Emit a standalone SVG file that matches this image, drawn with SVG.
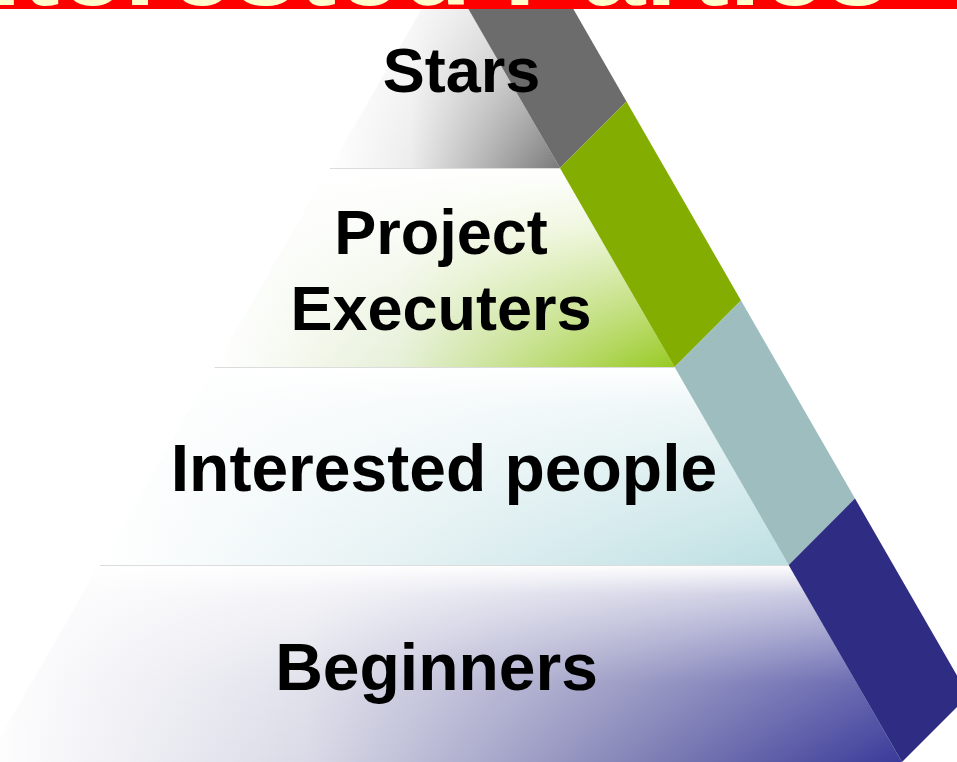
<svg xmlns="http://www.w3.org/2000/svg" width="957" height="762" viewBox="0 0 957 762">
  <style>
    .lbl { font-family: "Liberation Sans", Arial, sans-serif; font-weight: bold; fill: #000; text-anchor: middle; }
    .sep { stroke: #dcdcdc; stroke-width: 1.2; fill: none; }
    .title { font-family: "Liberation Sans", Arial, sans-serif; font-weight: bold; fill: #FFFFCC; font-size: 115px; }
  </style>
  <defs>
    <linearGradient id="gStarsH" gradientUnits="userSpaceOnUse" x1="330" y1="0" x2="560" y2="0">
      <stop offset="0" stop-color="#ffffff"/>
      <stop offset="0.35" stop-color="#ececec"/>
      <stop offset="1" stop-color="#7a7a7a"/>
    </linearGradient>
    <linearGradient id="gStarsV" gradientUnits="userSpaceOnUse" x1="0" y1="-31" x2="0" y2="168">
      <stop offset="0" stop-color="#ffffff" stop-opacity="0.85"/>
      <stop offset="0.45" stop-color="#ffffff" stop-opacity="0.5"/>
      <stop offset="1" stop-color="#ffffff" stop-opacity="0"/>
    </linearGradient>
    <linearGradient id="gProjH" gradientUnits="userSpaceOnUse" x1="215" y1="0" x2="674" y2="0">
      <stop offset="0" stop-color="#ffffff"/>
      <stop offset="0.4" stop-color="#e6f0d8"/>
      <stop offset="1" stop-color="#98ca22"/>
    </linearGradient>
    <linearGradient id="gProjV" gradientUnits="userSpaceOnUse" x1="0" y1="168" x2="0" y2="367">
      <stop offset="0" stop-color="#ffffff" stop-opacity="1"/>
      <stop offset="0.3" stop-color="#ffffff" stop-opacity="0.8"/>
      <stop offset="1" stop-color="#ffffff" stop-opacity="0"/>
    </linearGradient>
    <linearGradient id="gIntH" gradientUnits="userSpaceOnUse" x1="100" y1="0" x2="789" y2="0">
      <stop offset="0" stop-color="#ffffff"/>
      <stop offset="0.45" stop-color="#e4f1f3"/>
      <stop offset="1" stop-color="#bcdfe2"/>
    </linearGradient>
    <linearGradient id="gIntV" gradientUnits="userSpaceOnUse" x1="0" y1="367" x2="0" y2="565">
      <stop offset="0" stop-color="#ffffff" stop-opacity="1"/>
      <stop offset="0.2" stop-color="#ffffff" stop-opacity="0.7"/>
      <stop offset="1" stop-color="#ffffff" stop-opacity="0"/>
    </linearGradient>
    <linearGradient id="gBegH" gradientUnits="userSpaceOnUse" x1="-14" y1="0" x2="902" y2="0">
      <stop offset="0" stop-color="#ffffff"/>
      <stop offset="0.35" stop-color="#dadae7"/>
      <stop offset="0.7" stop-color="#8585b8"/>
      <stop offset="1" stop-color="#3a3a9a"/>
    </linearGradient>
    <linearGradient id="gBegV" gradientUnits="userSpaceOnUse" x1="0" y1="565" x2="0" y2="762">
      <stop offset="0" stop-color="#ffffff" stop-opacity="1"/>
      <stop offset="0.15" stop-color="#ffffff" stop-opacity="0.7"/>
      <stop offset="0.6" stop-color="#ffffff" stop-opacity="0.2"/>
      <stop offset="1" stop-color="#ffffff" stop-opacity="0"/>
    </linearGradient>
  </defs>

  <rect x="0" y="0" width="957" height="762" fill="#ffffff"/>

  <g id="stars">
    <polygon points="445,-31 560,168 330,168" fill="url(#gStarsH)"/>
    <polygon points="445,-31 560,168 330,168" fill="url(#gStarsV)"/>
    <polygon points="440.2,-40 545.2,-40 626.5,101.5 560,168" fill="#6c6c6c"/>
    <text class="lbl" x="461.5" y="92" font-size="63">Stars</text>
  </g>

  <g id="project-executers">
    <polygon points="330,168 560,168 674.6,367 214.6,367" fill="url(#gProjH)"/>
    <polygon points="330,168 560,168 674.6,367 214.6,367" fill="url(#gProjV)"/>
    <polygon points="560,168 626.5,101.5 741,300.5 674.6,367" fill="#83ad00"/>
    <text class="lbl" x="441" y="254" font-size="63">Project</text>
    <text class="lbl" x="441" y="330" font-size="63">Executers</text>
  </g>

  <g id="interested-people">
    <polygon points="214.6,367 674.6,367 788.7,565 99.7,565" fill="url(#gIntH)"/>
    <polygon points="214.6,367 674.6,367 788.7,565 99.7,565" fill="url(#gIntV)"/>
    <polygon points="674.6,367 741,300.5 855,498.5 788.7,565" fill="#9ebdbf"/>
    <text class="lbl" x="444" y="491" font-size="66">Interested people</text>
  </g>

  <g id="beginners">
    <polygon points="99.7,565 788.7,565 902,762 -14.5,762" fill="url(#gBegH)"/>
    <polygon points="99.7,565 788.7,565 902,762 -14.5,762" fill="url(#gBegV)"/>
    <polygon points="788.7,565 855,498.5 968.6,695.5 902,762" fill="#2e2c83"/>
    <text class="lbl" x="436.5" y="690" font-size="66">Beginners</text>
  </g>

  <g id="connectors">
    <line class="sep" x1="330" y1="168.5" x2="560" y2="168.5"/>
    <line class="sep" x1="214.6" y1="367.5" x2="674.6" y2="367.5"/>
    <line class="sep" x1="99.7" y1="565.5" x2="788.7" y2="565.5"/>
  </g>

  <g id="title-banner">
    <rect x="0" y="0" width="957" height="9" fill="#ff0000"/>
    <text class="title" x="-82" y="5" textLength="972" lengthAdjust="spacingAndGlyphs">Interested Parties</text>
  </g>
</svg>
